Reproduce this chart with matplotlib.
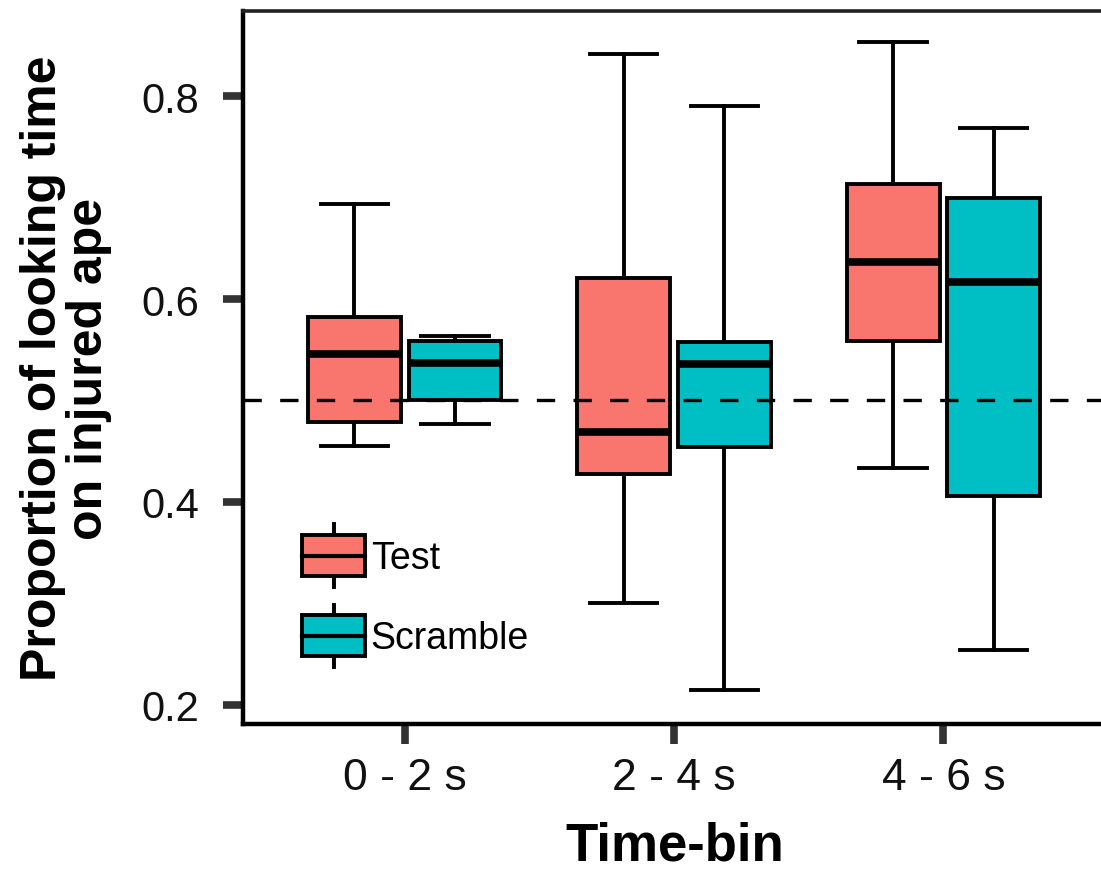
import numpy as np
import matplotlib.pyplot as plt
from matplotlib.legend_handler import HandlerBase
from matplotlib.patches import Rectangle, Patch
from matplotlib.lines import Line2D

plt.rcParams['font.family'] = ['Liberation Sans', 'DejaVu Sans']

bins = ["0 - 2 s", "2 - 4 s", "4 - 6 s"]
groups = ["Test", "Scramble"]
colors = ["#F8766D", "#00BFC4"]

# whisker low, q1, median, q3, whisker high
test_low = [0.455, 0.300, 0.433]
test_q1 = [0.479, 0.428, 0.559]
test_med = [0.546, 0.469, 0.637]
test_q3 = [0.582, 0.621, 0.713]
test_high = [0.694, 0.842, 0.853]

scr_low = [0.477, 0.215, 0.254]
scr_q1 = [0.500, 0.454, 0.406]
scr_med = [0.537, 0.536, 0.617]
scr_q3 = [0.559, 0.558, 0.700]
scr_high = [0.564, 0.790, 0.769]


def make_stats(lo, q1, med, q3, hi):
    return [dict(whislo=a, q1=b, med=c, q3=d, whishi=e, fliers=[])
            for a, b, c, d, e in zip(lo, q1, med, q3, hi)]


fig = plt.figure(figsize=(11.01, 8.79), dpi=100)
ax = fig.add_axes([0.2207, 0.1752, 0.7793, 0.8111])

ind = np.arange(1, len(bins) + 1)
offset = 0.187
stats_all = [make_stats(test_low, test_q1, test_med, test_q3, test_high),
             make_stats(scr_low, scr_q1, scr_med, scr_q3, scr_high)]

for k, (st, col) in enumerate(zip(stats_all, colors)):
    pos = ind + (-offset if k == 0 else offset)
    ax.bxp(st, positions=pos, widths=0.345, patch_artist=True,
           showfliers=False, capwidths=0.25,
           boxprops=dict(facecolor=col, edgecolor='black', linewidth=2.8),
           medianprops=dict(color='black', linewidth=5.5),
           whiskerprops=dict(color='black', linewidth=2.8),
           capprops=dict(color='black', linewidth=2.8))

ax.axhline(0.5, color='black', linestyle=(0, (5.5, 5.5)), linewidth=2.4, zorder=5)

ax.set_xlim(0.4, 3.585)
ax.set_ylim(0.181, 0.884)
ax.set_xticks(ind)
ax.set_xticklabels(bins)
ax.set_yticks([0.2, 0.4, 0.6, 0.8])
ax.set_yticklabels(["0.2", "0.4", "0.6", "0.8"])
ax.tick_params(axis='both', length=14.5, width=5.5, color='#333333',
               labelcolor='#111111')
ax.tick_params(axis='y', labelsize=30, pad=17)
ax.tick_params(axis='x', labelsize=32, pad=9)

for s in ['left', 'bottom']:
    ax.spines[s].set_linewidth(3.2)
ax.spines['top'].set_linewidth(2.6)
ax.spines['top'].set_color('#222222')
ax.spines['right'].set_visible(False)

ax.set_xlabel("Time-bin", fontsize=38, fontweight='bold')
ax.xaxis.set_label_coords(0.503, -0.136)
ax.set_ylabel("Proportion of looking time\non injured ape", fontsize=36,
              fontweight='bold', linespacing=1.0)
ax.yaxis.set_label_coords(-0.153, 0.5)


class BoxHandler(HandlerBase):
    def create_artists(self, legend, orig_handle, xdescent, ydescent,
                       width, height, fontsize, trans):
        col = orig_handle.get_facecolor()
        x0, y0 = -xdescent, -ydescent
        cx = x0 + width / 2
        ext = height * 0.26
        rect = Rectangle((x0, y0), width, height, facecolor=col,
                         edgecolor='black', linewidth=2.8, transform=trans)
        med = Line2D([x0, x0 + width], [y0 + height / 2] * 2, color='black',
                     linewidth=3.0, transform=trans)
        w1 = Line2D([cx, cx], [y0 + height, y0 + height + ext], color='black',
                    linewidth=2.8, transform=trans)
        w2 = Line2D([cx, cx], [y0, y0 - ext], color='black',
                    linewidth=2.8, transform=trans)
        return [w1, w2, rect, med]


handles = [Patch(facecolor=c, label=g) for c, g in zip(colors, groups)]
ax.legend(handles=handles, handler_map={Patch: BoxHandler()},
          loc='upper left', bbox_to_anchor=(0.0688, 0.265), frameon=False,
          fontsize=27, handlelength=1.68, handleheight=1.30,
          handletextpad=0.15, labelspacing=1.05, borderaxespad=0,
          borderpad=0)

fig.savefig('out.png', dpi=100)
